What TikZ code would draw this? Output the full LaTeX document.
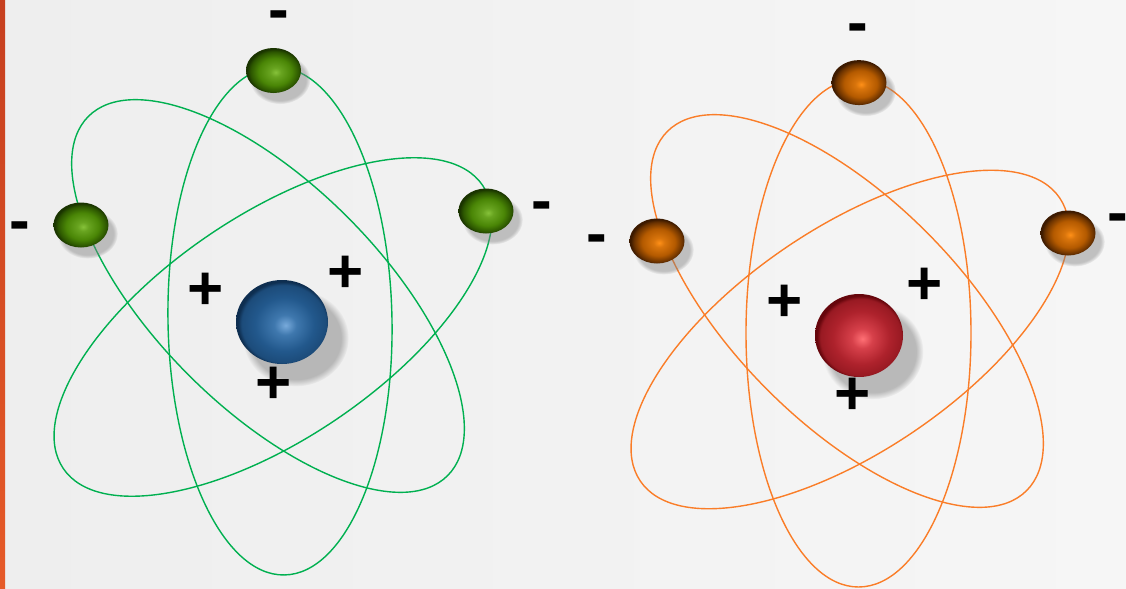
\documentclass[tikz,border=0pt]{standalone}
\usepackage{fontspec}
\setmainfont{Liberation Sans}
\usetikzlibrary{
    shapes.geometric,
    shadows
}

\definecolor{bgleft}{HTML}{EEEEEE}
\definecolor{bgright}{HTML}{F6F6F6}
\definecolor{bartop}{HTML}{C63F1F}
\definecolor{barbot}{HTML}{E65A28}
\definecolor{orbgreen}{HTML}{00B050}
\definecolor{orborange}{HTML}{FA7D28}
% sphere colours: highlight, middle, shade, rim
\definecolor{ghi}{HTML}{86C23A}
\definecolor{gmid}{HTML}{4A8606}
\definecolor{gdark}{HTML}{2C5600}
\definecolor{grim}{HTML}{1A3400}
\definecolor{ohi}{HTML}{FF9018}
\definecolor{omid}{HTML}{B45A00}
\definecolor{odark}{HTML}{6A3200}
\definecolor{orim}{HTML}{3C1A00}
\definecolor{bhi}{HTML}{78AADB}
\definecolor{bmid}{HTML}{3F78AE}
\definecolor{bdark}{HTML}{22588C}
\definecolor{brim}{HTML}{0E2E50}
\definecolor{rhi}{HTML}{FF7075}
\definecolor{rmid}{HTML}{D6404A}
\definecolor{rdark}{HTML}{AE222C}
\definecolor{rrim}{HTML}{66060C}

% sphere shadings, highlight a little right of and below the middle
\pgfdeclareradialshading{greenball}{\pgfpoint{2bp}{-2bp}}{%
    color(0bp)=(ghi); color(5bp)=(ghi!50!gmid); color(15bp)=(gmid);
    color(22bp)=(gdark); color(25bp)=(grim); color(50bp)=(grim)}
\pgfdeclareradialshading{orangeball}{\pgfpoint{2bp}{-2bp}}{%
    color(0bp)=(ohi); color(5bp)=(ohi!50!omid); color(15bp)=(omid);
    color(22bp)=(odark); color(25bp)=(orim); color(50bp)=(orim)}
\pgfdeclareradialshading{blueball}{\pgfpoint{2bp}{-2bp}}{%
    color(0bp)=(bhi); color(6bp)=(bmid); color(16bp)=(bdark);
    color(23bp)=(bdark!70!brim); color(25bp)=(brim); color(50bp)=(brim)}
\pgfdeclareradialshading{redball}{\pgfpoint{2bp}{-2bp}}{%
    color(0bp)=(rhi); color(6bp)=(rmid); color(16bp)=(rdark);
    color(23bp)=(rdark!70!rrim); color(25bp)=(rrim); color(50bp)=(rrim)}

\tikzset{
    orbitg/.style={draw=orbgreen, line width=0.7pt},
    orbito/.style={draw=orborange, line width=0.7pt},
    electron/.style={ellipse, inner sep=0pt, minimum width=27.5pt,
        minimum height=22.5pt, shade, shading=#1,
        circular drop shadow={shadow xshift=3pt, shadow yshift=-4pt,
            shadow scale=1.1, opacity=0.45}},
    nucleus/.style={ellipse, inner sep=0pt, shade, shading=#1,
        circular drop shadow={shadow xshift=6pt, shadow yshift=-7pt,
            shadow scale=1.15, opacity=0.5}},
    pluslbl/.style={anchor=base, inner sep=0pt,
        font=\fontsize{31}{31}\selectfont\bfseries},
    minuslbl/.style={anchor=base, inner sep=0pt,
        font=\fontsize{31}{31}\selectfont\bfseries}
}

\begin{document}
\begin{tikzpicture}[x=0.5pt, y=-0.5pt]
    \useasboundingbox (0,0) rectangle (1126,589);
    \shade[left color=bgleft, right color=bgright] (0,0) rectangle (1126,589);
    \shade[top color=bartop, bottom color=barbot] (0,0) rectangle (5,589);

    % first atom: green orbits
    \draw[orbitg, rotate around={1:(280,321)}] (280,321) ellipse [x radius=112, y radius=254];
    \draw[orbitg, rotate around={-45:(268,296)}] (268,296) ellipse [x radius=254, y radius=112];
    \draw[orbitg, rotate around={34:(273,327)}] (273,327) ellipse [x radius=253, y radius=112];

    \node[electron=greenball] (gtop) at (273.5,70.5) {};
    \node[electron=greenball] (gleft) at (81,225) {};
    \node[electron=greenball] (gright) at (486,211) {};
    \node[nucleus=blueball, minimum width=46pt, minimum height=42pt] (gnuc) at (282,322) {};

    \node[minuslbl] (gm1) at (279,31) {-};
    \node[minuslbl] (gm2) at (20,241) {-};
    \node[minuslbl] (gm3) at (542,221) {-};
    \node[pluslbl] (gp1) at (206,309) {+};
    \node[pluslbl] (gp2) at (346,292) {+};
    \node[pluslbl] (gp3) at (274,403) {+};

    % second atom: orange orbits
    \draw[orbito] (858.5,333) ellipse [x radius=112.5, y radius=254];
    \draw[orbito, rotate around={-45:(847,311)}] (847,311) ellipse [x radius=254, y radius=112];
    \draw[orbito, rotate around={34:(850,339.5)}] (850,339.5) ellipse [x radius=253, y radius=112];

    \node[electron=orangeball] (otop) at (859,82.6) {};
    \node[electron=orangeball] (oleft) at (657,241) {};
    \node[electron=orangeball] (oright) at (1068,233) {};
    \node[nucleus=redball, minimum width=44pt, minimum height=41.5pt] (onuc) at (859,335.5) {};

    \node[minuslbl] (om1) at (858,43) {-};
    \node[minuslbl] (om2) at (597,254.5) {-};
    \node[minuslbl] (om3) at (1118,233) {-};
    \node[pluslbl] (op1) at (784.5,321.4) {+};
    \node[pluslbl] (op2) at (924.6,304.5) {+};
    \node[pluslbl] (op3) at (853,414.6) {+};
\end{tikzpicture}
\end{document}
